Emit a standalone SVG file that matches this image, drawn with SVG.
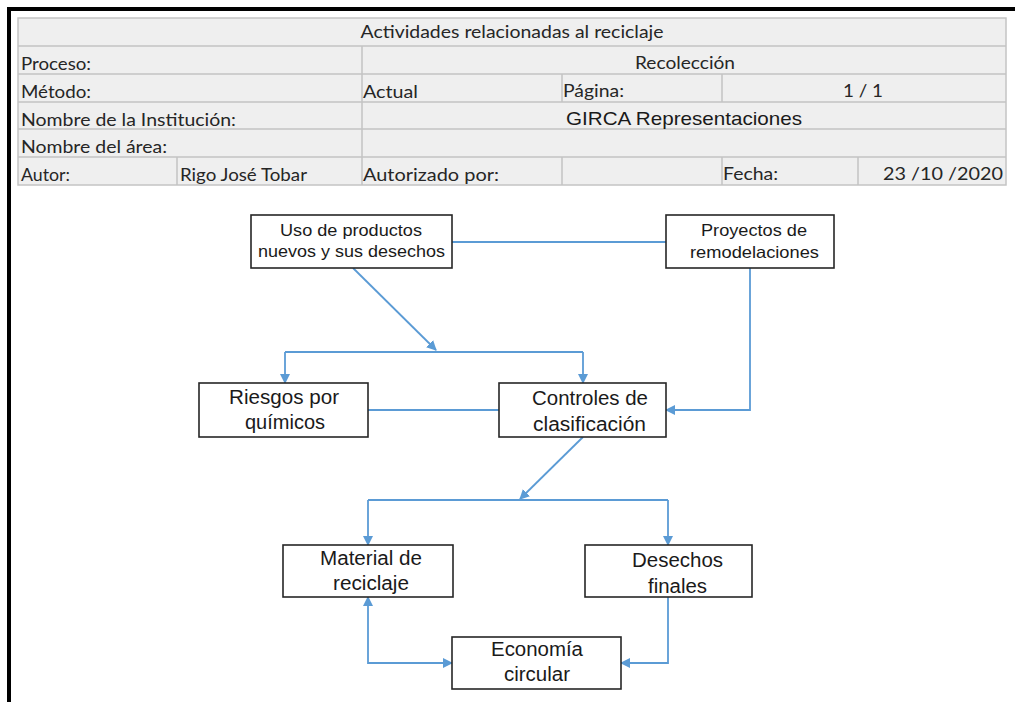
<svg xmlns="http://www.w3.org/2000/svg" width="1015" height="702" viewBox="0 0 1015 702">
  <style>
    .cell { font-family: Lato, "Open Sans", "Liberation Sans", sans-serif; font-size: 17.5px; fill: #262626; }
    .grid { stroke: #c4c4c4; stroke-width: 1.5; fill: none; }
    .box { fill: #ffffff; stroke: #262626; stroke-width: 1.6; }
    .lbl { font-family: "Liberation Sans", Arial, sans-serif; fill: #1a1a1a; }
    .big { font-size: 20px; }
    .small { font-size: 16.5px; }
    .link { stroke: #5b9bd5; stroke-width: 1.8; fill: none; }
  </style>
  <defs>
    <marker id="arrow" markerUnits="userSpaceOnUse" markerWidth="12" markerHeight="12" refX="9" refY="5" orient="auto">
      <path d="M0,0 L10,5 L0,10 Z" fill="#5b9bd5"/>
    </marker>
    <marker id="arrowStart" markerUnits="userSpaceOnUse" markerWidth="12" markerHeight="12" refX="1" refY="5" orient="auto">
      <path d="M10,0 L0,5 L10,10 Z" fill="#5b9bd5"/>
    </marker>
  </defs>

  <rect x="0" y="0" width="1015" height="702" fill="#ffffff"/>

  <!-- page frame -->
  <rect x="7" y="7" width="1008" height="4" fill="#000"/>
  <rect x="7" y="7" width="4" height="695" fill="#000"/>

  <!-- header table -->
  <g id="header-table">
    <rect x="18" y="18" width="988" height="167" fill="#efefef" stroke="#c4c4c4" stroke-width="1.5"/>
    <path class="grid" d="M18,46 H1006 M18,74 H1006 M18,102 H1006 M18,129 H1006 M18,157 H1006"/>
    <path class="grid" d="M362,46 V185 M562,74 V102 M722,74 V102 M562,157 V185 M722,157 V185 M177,157 V185 M858,157 V185"/>

    <text class="cell" x="512" y="38" text-anchor="middle" textLength="303" lengthAdjust="spacingAndGlyphs">Actividades relacionadas al reciclaje</text>
    <text class="cell" x="21" y="70" textLength="70" lengthAdjust="spacingAndGlyphs">Proceso:</text>
    <text class="cell" x="685" y="69" text-anchor="middle" textLength="100" lengthAdjust="spacingAndGlyphs">Recolección</text>
    <text class="cell" x="21" y="98" textLength="70" lengthAdjust="spacingAndGlyphs">Método:</text>
    <text class="cell" x="363" y="98" textLength="55" lengthAdjust="spacingAndGlyphs">Actual</text>
    <text class="cell" x="563" y="97" textLength="61" lengthAdjust="spacingAndGlyphs">Página:</text>
    <text class="cell" x="863" y="97" text-anchor="middle" textLength="40" lengthAdjust="spacingAndGlyphs">1 / 1</text>
    <text class="cell" x="21" y="126" textLength="215" lengthAdjust="spacingAndGlyphs">Nombre de la Institución:</text>
    <text x="684" y="125" text-anchor="middle" font-family="Liberation Sans, Arial, sans-serif" font-size="19" fill="#1a1a1a" textLength="236" lengthAdjust="spacingAndGlyphs">GIRCA Representaciones</text>
    <text class="cell" x="21" y="153" textLength="146" lengthAdjust="spacingAndGlyphs">Nombre del área:</text>
    <text class="cell" x="21" y="181" textLength="49" lengthAdjust="spacingAndGlyphs">Autor:</text>
    <text class="cell" x="180" y="181" textLength="127" lengthAdjust="spacingAndGlyphs">Rigo José Tobar</text>
    <text class="cell" x="363" y="181" textLength="136" lengthAdjust="spacingAndGlyphs">Autorizado por:</text>
    <text class="cell" x="723" y="180" textLength="55" lengthAdjust="spacingAndGlyphs">Fecha:</text>
    <text class="cell" x="1003" y="180" text-anchor="end" textLength="120" lengthAdjust="spacingAndGlyphs">23 /10 /2020</text>
  </g>

  <!-- connectors -->
  <g id="connectors">
    <path class="link" d="M452,242 H666"/>
    <path class="link" d="M353,268 L436,350" marker-end="url(#arrow)"/>
    <path class="link" d="M285,352 H583"/>
    <path class="link" d="M285,352 V383" marker-end="url(#arrow)"/>
    <path class="link" d="M583,352 V383" marker-end="url(#arrow)"/>
    <path class="link" d="M368,410 H499"/>
    <path class="link" d="M750,268 V410 H666" marker-end="url(#arrow)"/>
    <path class="link" d="M583,437 L520,499" marker-end="url(#arrow)"/>
    <path class="link" d="M368,500 H668"/>
    <path class="link" d="M368,500 V545" marker-end="url(#arrow)"/>
    <path class="link" d="M668,500 V545" marker-end="url(#arrow)"/>
    <path class="link" d="M368,597 V663 H452" marker-start="url(#arrowStart)" marker-end="url(#arrow)"/>
    <path class="link" d="M668,597 V663 H621" marker-end="url(#arrow)"/>
  </g>

  <!-- nodes -->
  <g id="uso-productos">
    <rect class="box" x="251" y="215" width="201" height="53"/>
    <text class="lbl small" x="351" y="236" text-anchor="middle" textLength="142" lengthAdjust="spacingAndGlyphs">Uso de productos</text>
    <text class="lbl small" x="351.5" y="257" text-anchor="middle" textLength="187" lengthAdjust="spacingAndGlyphs">nuevos y sus desechos</text>
  </g>

  <g id="proyectos-remodelaciones">
    <rect class="box" x="666" y="215" width="168" height="53"/>
    <text class="lbl small" x="754" y="236" text-anchor="middle" textLength="106" lengthAdjust="spacingAndGlyphs">Proyectos de</text>
    <text class="lbl small" x="754.5" y="258" text-anchor="middle" textLength="129" lengthAdjust="spacingAndGlyphs">remodelaciones</text>
  </g>

  <g id="riesgos-quimicos">
    <rect class="box" x="199" y="383" width="169" height="54"/>
    <text class="lbl big" x="284" y="404" text-anchor="middle" textLength="110" lengthAdjust="spacingAndGlyphs">Riesgos por</text>
    <text class="lbl big" x="285" y="429" text-anchor="middle" textLength="80" lengthAdjust="spacingAndGlyphs">químicos</text>
  </g>

  <g id="controles-clasificacion">
    <rect class="box" x="499" y="383" width="167" height="54"/>
    <text class="lbl big" x="590" y="405" text-anchor="middle" textLength="116" lengthAdjust="spacingAndGlyphs">Controles de</text>
    <text class="lbl big" x="589.5" y="431" text-anchor="middle" textLength="113" lengthAdjust="spacingAndGlyphs">clasificación</text>
  </g>

  <g id="material-reciclaje">
    <rect class="box" x="283" y="545" width="170" height="52"/>
    <text class="lbl big" x="371" y="565" text-anchor="middle" textLength="102" lengthAdjust="spacingAndGlyphs">Material de</text>
    <text class="lbl big" x="371" y="590" text-anchor="middle" textLength="76" lengthAdjust="spacingAndGlyphs">reciclaje</text>
  </g>

  <g id="desechos-finales">
    <rect class="box" x="585" y="545" width="167" height="52"/>
    <text class="lbl big" x="677.5" y="567" text-anchor="middle" textLength="91" lengthAdjust="spacingAndGlyphs">Desechos</text>
    <text class="lbl big" x="677.5" y="593" text-anchor="middle" textLength="59" lengthAdjust="spacingAndGlyphs">finales</text>
  </g>

  <g id="economia-circular">
    <rect class="box" x="452" y="637" width="169" height="52"/>
    <text class="lbl big" x="537" y="656" text-anchor="middle" textLength="92" lengthAdjust="spacingAndGlyphs">Economía</text>
    <text class="lbl big" x="537" y="681" text-anchor="middle" textLength="66" lengthAdjust="spacingAndGlyphs">circular</text>
  </g>
</svg>
